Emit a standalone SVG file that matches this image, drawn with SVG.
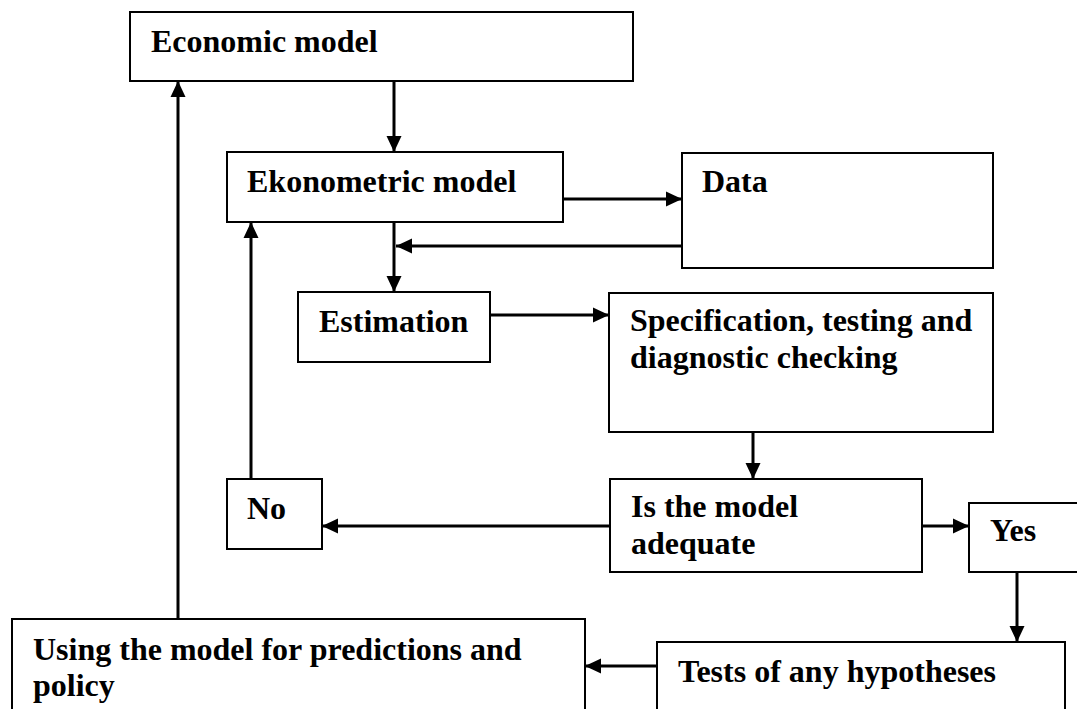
<svg xmlns="http://www.w3.org/2000/svg" width="1077" height="709" viewBox="0 0 1077 709">
<style>
.box{fill:#fff;stroke:#000;stroke-width:2}
.t{font-family:"Liberation Serif","Times New Roman",serif;font-weight:bold;font-size:32px;fill:#000}
.c{fill:none;stroke:#000;stroke-width:3}
</style>
<defs>
<marker id="ah" markerUnits="userSpaceOnUse" markerWidth="16" markerHeight="16" refX="16" refY="8" orient="auto">
<path d="M0,0.5 L16,8 L0,15.5 z" fill="#000"/>
</marker>
</defs>
<rect width="1077" height="709" fill="#fff"/>
<g id="economic"><rect class="box" x="130" y="12" width="503" height="69"/><text class="t" x="151" y="52">Economic model</text></g>
<g id="ekonometric"><rect class="box" x="227" y="152" width="336" height="70"/><text class="t" x="247" y="192">Ekonometric model</text></g>
<g id="data"><rect class="box" x="682" y="153" width="311" height="115"/><text class="t" x="702" y="192">Data</text></g>
<g id="estimation"><rect class="box" x="298" y="292" width="192" height="70"/><text class="t" x="319" y="332">Estimation</text></g>
<g id="specification"><rect class="box" x="609" y="293" width="384" height="139"/><text class="t" x="630" y="331">Specification, testing and</text><text class="t" x="630" y="368">diagnostic checking</text></g>
<g id="adequate"><rect class="box" x="610" y="479" width="312" height="93"/><text class="t" x="631" y="517">Is the model</text><text class="t" x="631" y="554">adequate</text></g>
<g id="no"><rect class="box" x="227" y="479" width="95" height="70"/><text class="t" x="247" y="519">No</text></g>
<g id="yes"><rect class="box" x="969" y="503" width="112" height="69"/><text class="t" x="990" y="541">Yes</text></g>
<g id="tests"><rect class="box" x="657" y="642" width="408" height="80"/><text class="t" x="678" y="682">Tests of any hypotheses</text></g>
<g id="using"><rect class="box" x="12" y="619" width="573" height="100"/><text class="t" x="33" y="660">Using the model for predictions and</text><text class="t" x="33" y="696">policy</text></g>
<g id="connectors">
<line class="c" x1="394" y1="81" x2="394" y2="152" marker-end="url(#ah)"/>
<line class="c" x1="563" y1="199" x2="682" y2="199" marker-end="url(#ah)"/>
<line class="c" x1="682" y1="246" x2="396" y2="246" marker-end="url(#ah)"/>
<line class="c" x1="394" y1="222" x2="394" y2="292" marker-end="url(#ah)"/>
<line class="c" x1="490" y1="315" x2="609" y2="315" marker-end="url(#ah)"/>
<line class="c" x1="753" y1="432" x2="753" y2="479" marker-end="url(#ah)"/>
<line class="c" x1="610" y1="526" x2="322" y2="526" marker-end="url(#ah)"/>
<line class="c" x1="922" y1="526" x2="969" y2="526" marker-end="url(#ah)"/>
<line class="c" x1="1017" y1="572" x2="1017" y2="642" marker-end="url(#ah)"/>
<line class="c" x1="657" y1="666" x2="585" y2="666" marker-end="url(#ah)"/>
<line class="c" x1="251" y1="479" x2="251" y2="222" marker-end="url(#ah)"/>
<line class="c" x1="178" y1="619" x2="178" y2="81" marker-end="url(#ah)"/>
</g>
</svg>
